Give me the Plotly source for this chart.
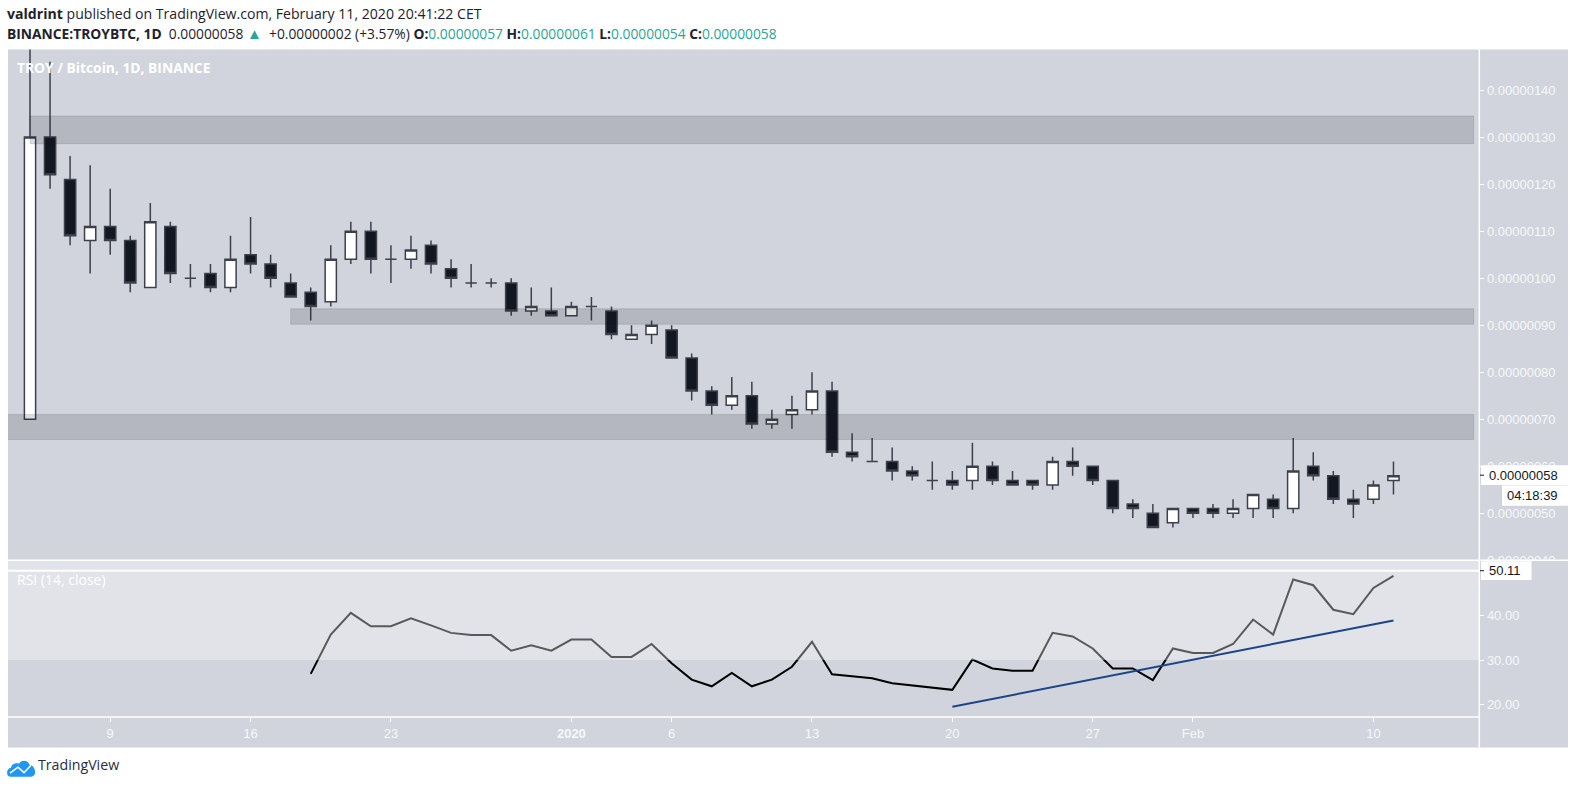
import pandas as pd
import plotly.graph_objects as go

W, H = 1576, 797
dates = pd.date_range("2019-12-05", "2020-02-11", freq="D").strftime("%Y-%m-%d").tolist()

opens = [70,130,121,108,111,108,98,111,100,101,98,105,103,99,97,95,104,110,104,104,107,102,99,99,99,93,93,92,94,93,87,88,89,83,76,73,75,69,71,72,76,
         63,61,61,59,57,57,57,60,57,57,56,61,60,57,52,50,48,51,51,50,51,53,51,60,58,53,53,57]
highs = [185,146,126,124,119,109,116,112,103,103,109,113,105,101,98,107,112,112,107,109,108,104,103,100,100,98,98,95,96,94,90,91,90,84,77,79,78,72,75,80,78,
         67,66,64,60,61,59,65,61,59,57,62,64,60,57,53,52,51,51,52,53,54,54,66,63,59,55,57,61]
lows = [70,119,107,101,105,97,98,99,98,97,97,101,98,96,91,94,103,101,99,102,101,98,98,98,92,92,92,92,91,87,87,86,83,74,71,72,68,68,68,71,62,
        61,61,57,57,55,55,55,56,56,55,55,58,56,50,49,47,47,49,49,49,49,49,50,57,52,49,52,54]
closes = [130,122,109,111,108,99,112,101,100,98,104,103,100,96,94,104,110,104,104,106,103,100,99,99,93,94,92,94,94,88,88,90,83,76,73,75,69,70,72,76,63,
          62,61,59,58,57,56,60,57,56,56,61,60,57,51,51,47,51,50,50,51,54,51,59,58,53,52,56,58]

rsi_dates = dates[14:]
rsi_values = [26.9,35.7,40.6,37.6,37.6,39.4,37.8,36.1,35.6,35.6,32.1,33.3,32.1,34.6,34.6,30.7,30.7,33.6,29.3,25.6,24.1,27.1,24.1,25.6,28.5,34.1,26.8,
              26.3,25.9,24.8,24.3,23.8,23.3,30.1,28.1,27.6,27.6,36.1,35.3,32.6,28.1,28.1,25.5,32.6,31.6,31.6,33.6,39.1,35.7,48.1,46.8,41.3,40.3,46.2,48.9]

band_starts = ["2019-12-05", "2019-12-18", "2019-12-01"]
band_end = "2020-02-15"
band_lows = [128.6, 90.2, 65.7]
band_highs = [134.5, 93.5, 71.0]
trend_dates = ["2020-01-20", "2020-02-11"]
trend_values = [19.5, 38.9]

price_ticks = list(range(40, 150, 10))
price_labels = [f"0.{v:08d}" for v in price_ticks]
rsi_ticks = [20, 30, 40]
rsi_labels = ["20.00", "30.00", "40.00"]
time_ticks = ["2019-12-09","2019-12-16","2019-12-23","2020-01-01","2020-01-06","2020-01-13","2020-01-20","2020-01-27","2020-02-01","2020-02-10"]
time_labels = ["9","16","23","<b>2020</b>","6","13","20","27","Feb","10"]
x_range = ["2019-12-03 21:40", "2020-02-15 06:44"]

BG = "#d1d4dc"
TICK = "#f7f8fa"
FONT = "Liberation Sans"

def px(x): return x / W
def py(y): return 1 - y / H

fig = go.Figure()
fig.add_trace(go.Candlestick(
    x=dates, open=opens, high=highs, low=lows, close=closes, xaxis="x", yaxis="y",
    increasing=dict(line=dict(color="#3d404b", width=1.5), fillcolor="#ffffff"),
    decreasing=dict(line=dict(color="#3d404b", width=1.5), fillcolor="#131722"),
    whiskerwidth=0, showlegend=False, name="TROYBTC"))
fig.add_trace(go.Scatter(x=rsi_dates, y=rsi_values, mode="lines", xaxis="x2", yaxis="y2",
                         line=dict(color="#000000", width=2), showlegend=False, name="RSI"))

shapes = []
def rect(x0, y0, x1, y1, fill, layer="above"):
    shapes.append(dict(type="rect", xref="paper", yref="paper", x0=px(x0), x1=px(x1), y0=py(y0), y1=py(y1),
                       fillcolor=fill, line=dict(width=0), layer=layer))
def hline(x0, x1, y, color="#ffffff", w=1.5):
    shapes.append(dict(type="line", xref="paper", yref="paper", x0=px(x0), x1=px(x1), y0=py(y), y1=py(y),
                       line=dict(color=color, width=w), layer="above"))

rect(8, 50, 1568, 755, BG, "below")
for s, lo, hi in zip(band_starts, band_lows, band_highs):
    shapes.append(dict(type="rect", xref="x", yref="y", x0=s, x1=band_end, y0=lo, y1=hi,
                       fillcolor="rgba(19,23,34,0.15)", line=dict(color="rgba(19,23,34,0.12)", width=1), layer="above"))
# the 30+ zone of the RSI pane
shapes.append(dict(type="rect", xref="x2", yref="y2", x0=x_range[0], x1=x_range[1], y0=30, y1=60,
                   fillcolor="rgba(255,255,255,0.35)", line=dict(width=0), layer="above"))
shapes.append(dict(type="line", xref="x2", yref="y2", x0=trend_dates[0], x1=trend_dates[1], y0=trend_values[0], y1=trend_values[1],
                   line=dict(color="#1c4587", width=2), layer="above"))
# cover that clips the lowest price label at the pane edge
rect(1480, 566, 1568, 578, BG)
hline(8, 1568, 566)
hline(8, 1479.3, 576.5, w=2)
hline(8, 1479.3, 724.3)
shapes.append(dict(type="line", xref="paper", yref="paper", x0=px(1479.3), x1=px(1479.3), y0=py(50), y1=py(755),
                   line=dict(color="#ffffff", width=1.5), layer="above"))
# last-value boxes
rect(1481, 470, 1568, 490, "#ffffff")
rect(1502, 490.5, 1568, 511, "#ffffff")
rect(1481, 567, 1531.5, 586, "#ffffff")
hline(1480, 1484, 480, "#131722", 1)
hline(1480, 1484, 576.5, "#131722", 1)

# TradingView logo
def path(points):
    out = []
    for cmd, *xy in points:
        coords = " ".join(f"{px(xy[i]):.5f},{py(xy[i+1]):.5f}" for i in range(0, len(xy), 2))
        out.append(f"{cmd}{coords}")
    return " ".join(out)
cloud = path([("M", 10, 784.5), ("C", 6, 784.5, 6, 776, 11, 775.5), ("C", 12, 771, 17, 770.5, 19, 771.5),
              ("C", 21, 767, 28, 767.5, 29.5, 772.5), ("C", 35, 772.5, 38, 784.5, 31, 784.5)]) + " Z"
shapes.append(dict(type="path", xref="paper", yref="paper", path=cloud, fillcolor="#2196f3", line=dict(width=0), layer="above"))
zig = path([("M", 10, 781), ("L", 18, 775), ("L", 24, 780.5), ("L", 31, 773)])
shapes.append(dict(type="path", xref="paper", yref="paper", path=zig, line=dict(color="#ffffff", width=1.5), layer="above"))

TEAL = "#26a69a"
BLACK = "#131722"
def t(color, s): return f'<span style="color:{color}">{s}</span>'
line1 = "<b>valdrint</b> published on TradingView.com, February 11, 2020 20:41:22 CET"
line2 = ("<b>BINANCE:TROYBTC, 1D</b>  0.00000058 " + f'<span style="color:{TEAL};font-size:15px">▲</span>' + "\u00a0\u00a0+0.00000002 (+3.57%) "
         "<b>O:</b>" + t(TEAL, "0.00000057") + " <b>H:</b>" + t(TEAL, "0.00000061") +
         " <b>L:</b>" + t(TEAL, "0.00000054") + " <b>C:</b>" + t(TEAL, "0.00000058"))

HEAD = "Open Sans"
def note(x, y, text, size=13, color=BLACK, family=FONT):
    return dict(xref="paper", yref="paper", x=px(x), y=py(y), xanchor="left", yanchor="middle", text=text, showarrow=False,
                font=dict(size=size, color=color, family=family), borderpad=0, borderwidth=0, align="left")
annotations = [
    note(7, 14, line1, 14.1, "#1e222d", HEAD),
    note(7, 33, line2, 13.8, "#1e222d", HEAD),
    note(17, 68, "<b>TROY / Bitcoin, 1D, BINANCE</b>", 13.8, "#ffffff", HEAD),
    note(17, 585, "RSI (14, close)", 14, "#ffffff", HEAD),
    note(1489, 480, "0.00000058", 13, BLACK),
    note(1507, 500.5, "04:18:39", 13, BLACK),
    note(1489, 576.5, "50.11", 13, BLACK),
    note(38, 772, "TradingView", 14.2, "#2a2e39", HEAD),
]

axis_common = dict(showgrid=False, zeroline=False, showspikes=False)
fig.update_layout(
    width=W, height=H, margin=dict(l=0, r=0, t=0, b=0), autosize=False,
    paper_bgcolor="#ffffff", plot_bgcolor="rgba(0,0,0,0)",
    boxgap=0.2, boxgroupgap=0.3,
    font=dict(family=FONT, size=13, color=TICK),
    shapes=shapes, annotations=annotations, showlegend=False, hovermode=False,
    xaxis=dict(domain=[px(8), px(1479.3)], range=x_range, type="date", anchor="y", rangeslider=dict(visible=False),
               showticklabels=False, ticks="", **axis_common),
    xaxis2=dict(domain=[px(8), px(1479.3)], range=x_range, type="date", anchor="y2", matches="x",
                tickmode="array", tickvals=time_ticks, ticktext=time_labels, ticks="outside", ticklen=4,
                tickcolor="#ffffff", tickfont=dict(size=13, color=TICK, family=FONT), **axis_common),
    yaxis=dict(domain=[py(566), py(50)], range=[40, 148.63], side="right", anchor="x",
               tickmode="array", tickvals=price_ticks, ticktext=price_labels, ticks="outside", ticklen=4,
               tickcolor="#ffffff", tickfont=dict(size=13, color=TICK, family=FONT), **axis_common),
    yaxis2=dict(domain=[py(724.3), py(566)], range=[17.2, 52.4], side="right", anchor="x2",
                tickmode="array", tickvals=rsi_ticks, ticktext=rsi_labels, ticks="outside", ticklen=4,
                tickcolor="#ffffff", tickfont=dict(size=13, color=TICK, family=FONT), **axis_common),
)

fig.write_html("out.html", post_script="document.body.style.margin='0';document.documentElement.style.overflow='hidden';", config=dict(displayModeBar=False))
